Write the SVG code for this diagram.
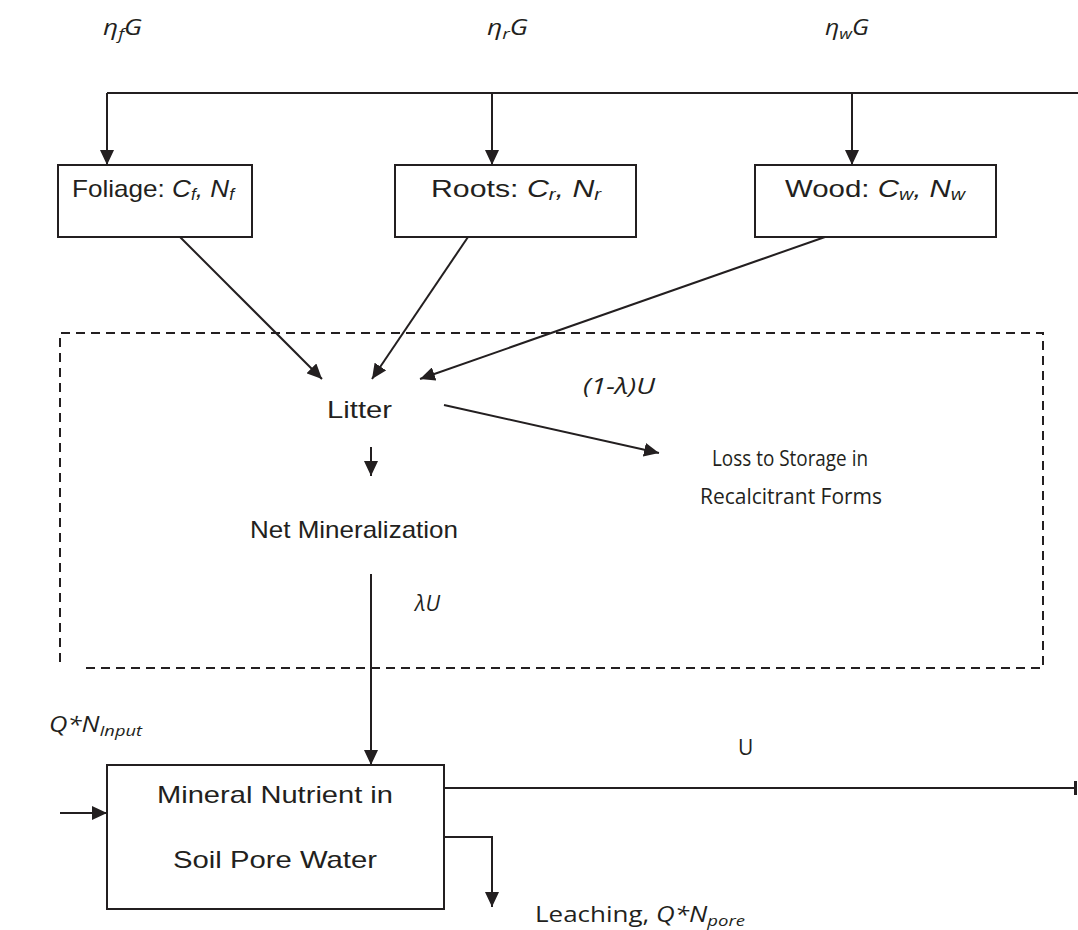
<svg xmlns="http://www.w3.org/2000/svg" width="1078" height="930" viewBox="0 0 1078 930">
<style>
.box{fill:#fff;stroke:#231f20;stroke-width:2}
.ln{fill:none;stroke:#231f20;stroke-width:2}
.dash{fill:none;stroke:#231f20;stroke-width:2;stroke-dasharray:9 6}
.ar{font-family:"Liberation Sans",Arial,sans-serif;font-size:24px;fill:#231f20}
.cal{font-family:"Open Sans","Noto Sans",sans-serif;font-size:21px;fill:#231f20}
.it{font-style:italic}
</style>
<defs>
<marker id="ah" markerUnits="userSpaceOnUse" markerWidth="16" markerHeight="14" refX="15" refY="7" orient="auto">
<path d="M0,0 L15,7 L0,14 Z" fill="#231f20"/>
</marker>
<marker id="bar" markerUnits="userSpaceOnUse" markerWidth="4" markerHeight="14" refX="2" refY="7" orient="auto">
<rect x="0" y="0" width="3" height="14" fill="#231f20"/>
</marker>
</defs>

<g id="labels-top">
<text class="cal it" x="103" y="35" textLength="39" lengthAdjust="spacingAndGlyphs">η<tspan font-size="15" dy="4">f</tspan><tspan dy="-4">G</tspan></text>
<text class="cal it" x="487" y="35" textLength="41" lengthAdjust="spacingAndGlyphs">η<tspan font-size="15" dy="4">r</tspan><tspan dy="-4">G</tspan></text>
<text class="cal it" x="825" y="35" textLength="44" lengthAdjust="spacingAndGlyphs">η<tspan font-size="15" dy="4">w</tspan><tspan dy="-4">G</tspan></text>
</g>

<g id="foliage">
<rect class="box" x="58" y="165" width="194" height="72"/>
<text class="ar" x="72" y="197" textLength="162" lengthAdjust="spacingAndGlyphs">Foliage: <tspan class="it">C<tspan font-size="16" dy="3">f</tspan><tspan dy="-3">, N</tspan><tspan font-size="16" dy="3">f</tspan></tspan></text>
</g>
<g id="roots">
<rect class="box" x="395" y="165" width="241" height="72"/>
<text class="ar" x="431" y="197" textLength="170" lengthAdjust="spacingAndGlyphs">Roots: <tspan class="it">C<tspan font-size="16" dy="3">r</tspan><tspan dy="-3">, N</tspan><tspan font-size="16" dy="3">r</tspan></tspan></text>
</g>
<g id="wood">
<rect class="box" x="755" y="165" width="241" height="72"/>
<text class="ar" x="785" y="197" textLength="180" lengthAdjust="spacingAndGlyphs">Wood: <tspan class="it">C<tspan font-size="16" dy="3">w</tspan><tspan dy="-3">, N</tspan><tspan font-size="16" dy="3">w</tspan></tspan></text>
</g>

<g id="soil-box">
<path class="dash" d="M60,662 V333 H1043 V668 H83"/>
</g>

<g id="litter">
<text class="ar" x="327" y="418" textLength="65" lengthAdjust="spacingAndGlyphs">Litter</text>
</g>
<g id="loss">
<text class="cal" x="712" y="466" textLength="156" lengthAdjust="spacingAndGlyphs">Loss to Storage in</text>
<text class="cal" x="700" y="504" textLength="182" lengthAdjust="spacingAndGlyphs">Recalcitrant Forms</text>
</g>
<g id="netmin">
<text class="ar" x="250" y="538" textLength="208" lengthAdjust="spacingAndGlyphs">Net Mineralization</text>
</g>

<g id="mineral">
<rect class="box" x="107" y="765" width="337" height="144"/>
<text class="ar" x="157" y="803" textLength="236" lengthAdjust="spacingAndGlyphs">Mineral Nutrient in</text>
<text class="ar" x="173" y="868" textLength="204" lengthAdjust="spacingAndGlyphs">Soil Pore Water</text>
</g>

<g id="connectors">
<path class="ln" d="M107,93 H1078" stroke-width="3"/>
<path class="ln" d="M107,93 V165" marker-end="url(#ah)"/>
<path class="ln" d="M492,93 V165" marker-end="url(#ah)"/>
<path class="ln" d="M852,93 V165" marker-end="url(#ah)"/>
<path class="ln" d="M180,237 L322,379" marker-end="url(#ah)"/>
<path class="ln" d="M468,237 L372,379" marker-end="url(#ah)"/>
<path class="ln" d="M825,237 L420,379" marker-end="url(#ah)"/>
<path class="ln" d="M444,405 L659,453" marker-end="url(#ah)"/>
<path class="ln" d="M371,447 V476" marker-end="url(#ah)"/>
<path class="ln" d="M371,574 V765" marker-end="url(#ah)"/>
<path class="ln" d="M60,813 H107" marker-end="url(#ah)"/>
<path class="ln" d="M444,788 H1076" marker-end="url(#bar)"/>
<path class="ln" d="M444,837 H492 V907" marker-end="url(#ah)"/>
</g>

<g id="flow-labels">
<text class="cal it" x="583" y="394" textLength="72" lengthAdjust="spacingAndGlyphs">(1-λ)U</text>
<text class="cal it" x="415" y="611" textLength="25" lengthAdjust="spacingAndGlyphs">λU</text>
<text class="cal it" x="49" y="732" textLength="93" lengthAdjust="spacingAndGlyphs">Q*N<tspan font-size="15" dy="4">Input</tspan></text>
<text class="cal" x="738" y="755">U</text>
<text class="cal" x="535" y="922" textLength="210" lengthAdjust="spacingAndGlyphs">Leaching, <tspan class="it">Q*N<tspan font-size="15" dy="4">pore</tspan></tspan></text>
</g>
</svg>
